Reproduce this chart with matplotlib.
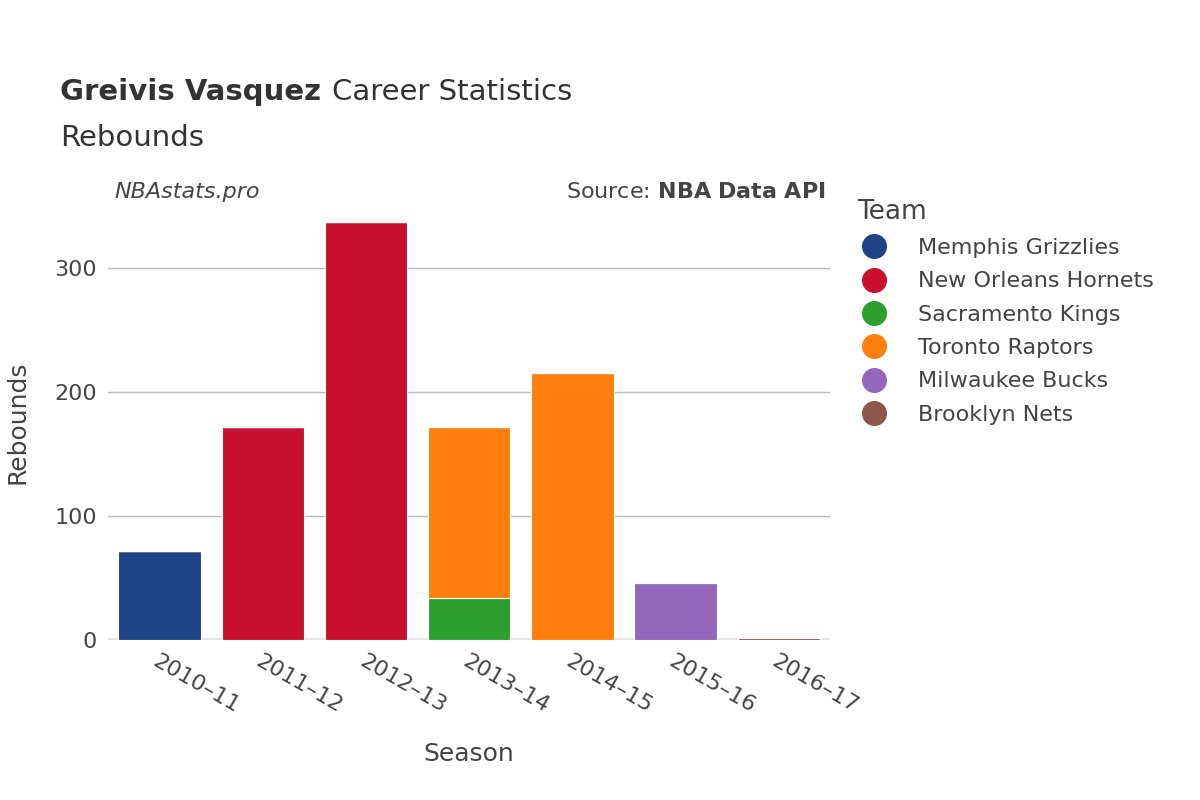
import matplotlib
matplotlib.use("Agg")
import matplotlib.pyplot as plt
from matplotlib.lines import Line2D
import numpy as np

seasons = ["2010–11", "2011–12", "2012–13", "2013–14", "2014–15", "2015–16", "2016–17"]
teams = ["Memphis Grizzlies", "New Orleans Hornets", "Sacramento Kings",
         "Toronto Raptors", "Milwaukee Bucks", "Brooklyn Nets"]
colors = ["#1f4387", "#c8102e", "#2ca02c", "#ff7f0e", "#9467bd", "#8c564b"]
# rebounds per team per season (stack order as in chart)
memphis = [72, 0, 0, 0, 0, 0, 0]
hornets = [0, 172, 337, 0, 0, 0, 0]
kings = [0, 0, 0, 34, 0, 0, 0]
raptors = [0, 0, 0, 138, 215, 0, 0]
bucks = [0, 0, 0, 0, 0, 46, 0]
nets = [0, 0, 0, 0, 0, 0, 2]
series = [memphis, hornets, kings, raptors, bucks, nets]

plt.rcParams["font.family"] = "DejaVu Sans"
fig = plt.figure(figsize=(12, 8), dpi=100)
ax = fig.add_axes([0.09, 0.2, 0.602, 0.544])

x = np.arange(len(seasons))
bottom = np.zeros(len(seasons))
for name, vals, c in zip(teams, series, colors):
    v = np.array(vals, dtype=float)
    ax.bar(x, v, 0.8, bottom=bottom, color=c, edgecolor="white", linewidth=0.8, zorder=3)
    bottom += v

ax.set_xlim(-0.5, 6.5)
ax.set_ylim(0, 351)
ax.set_yticks([0, 100, 200, 300])
ax.grid(axis="y", color="#bbbbbb", linewidth=1, zorder=0)
for s in ax.spines.values():
    s.set_visible(False)
ax.axhline(0, color="#e6e6e6", linewidth=3, zorder=2)
ax.tick_params(length=0, labelsize=16, labelcolor="#444444", pad=8)
ax.set_xticks(x)
ax.set_xticklabels(seasons, rotation=-30, ha="left", rotation_mode="anchor")
ax.set_xlabel("Season", fontsize=18, color="#444444", labelpad=18)
ax.set_ylabel("Rebounds", fontsize=18, color="#444444", labelpad=18)

t1 = fig.text(0.05, 0.875, "Greivis Vasquez", fontsize=21, fontweight="bold", color="#333333")
fig.canvas.draw()
bb = t1.get_window_extent()
fig.text(bb.x1 / 1200 + 0.009, 0.875, "Career Statistics", fontsize=21, color="#333333")
fig.text(0.05, 0.818, "Rebounds", fontsize=21, color="#333333")
fig.text(0.095, 0.752, "NBAstats.pro", fontsize=16, style="italic", color="#444444")
fig.text(0.688, 0.752, "Source: $\\bf{NBA\\ Data\\ API}$", fontsize=16, color="#444444", ha="right")

handles = [Line2D([], [], marker="o", linestyle="none", markersize=17, color=c) for c in colors]
leg = ax.legend(handles, teams, loc="upper left", bbox_to_anchor=(1.01, 1.06), frameon=False,
                fontsize=16, title="Team", title_fontsize=19, handlelength=1.5,
                labelspacing=0.6, handletextpad=1.2, alignment="left")
for t in leg.get_texts():
    t.set_color("#444444")
leg.get_title().set_color("#444444")

fig.savefig("out.png", dpi=100, facecolor="white")
